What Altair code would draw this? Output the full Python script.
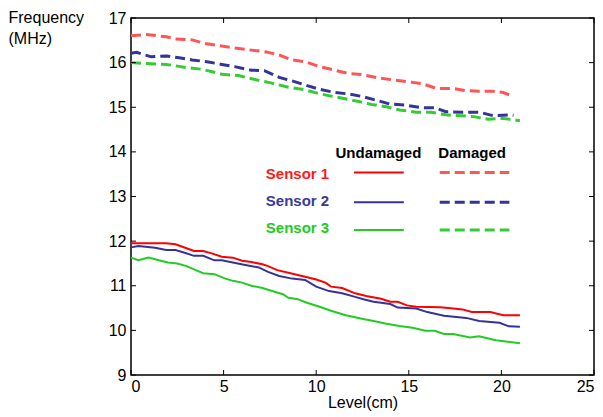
import altair as alt
import pandas as pd

# ---------------- data ----------------
s1u_x = [0, 1.9, 2.4, 3.0, 3.4, 3.9, 4.4, 4.9, 5.5, 6.0, 6.5, 7.1, 7.4, 7.9, 8.5, 9.4, 10.0, 10.5, 10.8,
         11.4, 12.1, 12.7, 13.5, 14.0, 14.4, 14.9, 15.4, 16.7, 17.4, 17.9, 18.4, 19.4, 20.1, 21.0]
s1u_y = [11.95, 11.95, 11.93, 11.84, 11.78, 11.78, 11.72, 11.65, 11.63, 11.56, 11.53, 11.48, 11.44, 11.35,
         11.29, 11.20, 11.14, 11.07, 10.98, 10.95, 10.83, 10.77, 10.71, 10.64, 10.64, 10.56, 10.53, 10.52,
         10.49, 10.47, 10.41, 10.41, 10.34, 10.34]

s2u_x = [0, 0.4, 1.3, 1.9, 2.4, 2.9, 3.4, 3.9, 4.5, 4.9, 5.5, 6.1, 6.9, 7.4, 8.0, 8.7, 9.4, 10.0, 10.7,
         11.4, 12.1, 12.6, 13.1, 14.0, 14.4, 15.4, 16.0, 16.9, 18.1, 18.8, 19.9, 20.4, 21.0]
s2u_y = [11.86, 11.89, 11.85, 11.80, 11.80, 11.74, 11.67, 11.67, 11.57, 11.57, 11.52, 11.47, 11.41, 11.31,
         11.22, 11.16, 11.13, 10.98, 10.88, 10.83, 10.75, 10.69, 10.64, 10.59, 10.51, 10.49, 10.41, 10.33,
         10.28, 10.21, 10.17, 10.09, 10.08]

s3u_x = [0, 0.4, 0.95, 1.5, 2.0, 2.5, 3.0, 3.5, 3.9, 4.5, 5.1, 5.5, 6.0, 6.5, 7.1, 7.8, 8.2, 8.5, 9.0, 9.5,
         10.1, 10.8, 11.6, 12.6, 13.1, 13.8, 14.5, 15.2, 15.9, 16.4, 16.9, 17.4, 18.3, 18.8, 19.7, 21.0]
s3u_y = [11.63, 11.57, 11.63, 11.57, 11.52, 11.50, 11.44, 11.35, 11.28, 11.26, 11.16, 11.11, 11.07, 11.00,
         10.95, 10.86, 10.81, 10.73, 10.70, 10.62, 10.54, 10.44, 10.34, 10.25, 10.21, 10.15, 10.10, 10.06,
         9.99, 9.99, 9.92, 9.92, 9.84, 9.87, 9.78, 9.71]

s1d_x = [0, 0.8, 1.9, 2.4, 3.3, 4.0, 4.75, 5.6, 6.5, 7.3, 8.0, 8.7, 9.4, 10.1, 10.8, 11.7, 12.5, 13.3,
         14.2, 15.0, 15.8, 16.5, 17.4, 18.1, 18.8, 19.55, 20.1, 20.45, 20.65]
s1d_y = [16.60, 16.63, 16.58, 16.53, 16.51, 16.43, 16.38, 16.33, 16.28, 16.24, 16.17, 16.06, 16.02, 15.92,
         15.85, 15.76, 15.73, 15.66, 15.61, 15.57, 15.52, 15.42, 15.42, 15.37, 15.36, 15.36, 15.33, 15.27,
         15.30]

s2d_x = [0, 0.3, 1.1, 1.9, 2.6, 3.3, 4.1, 4.9, 5.6, 6.5, 7.2, 8.0, 8.7, 9.4, 10.1, 11.0, 11.7, 12.5, 13.3,
         14.0, 14.8, 15.7, 16.4, 17.0, 17.9, 18.8, 19.55, 20.45, 20.65]
s2d_y = [16.21, 16.23, 16.13, 16.15, 16.11, 16.06, 16.02, 15.96, 15.91, 15.83, 15.82, 15.67, 15.59, 15.50,
         15.41, 15.33, 15.30, 15.24, 15.15, 15.07, 15.05, 14.99, 14.99, 14.90, 14.89, 14.89, 14.81, 14.83,
         14.82]

s3d_x = [0, 0.8, 1.9, 3.0, 3.85, 4.9, 5.8, 6.8, 7.6, 8.5, 9.4, 10.1, 10.8, 11.7, 12.4, 13.0, 13.8, 14.5,
         15.4, 16.2, 17.0, 17.8, 18.5, 19.3, 20.1, 20.8, 21.0]
s3d_y = [16.00, 15.98, 15.96, 15.89, 15.85, 15.74, 15.71, 15.61, 15.54, 15.45, 15.39, 15.31, 15.25, 15.18,
         15.12, 15.06, 15.01, 14.94, 14.89, 14.89, 14.83, 14.81, 14.79, 14.73, 14.75, 14.71, 14.70]

sensors = ["Sensor 1", "Sensor 2", "Sensor 3"]
states = ["Undamaged", "Damaged"]
x_ticks = [0, 5, 10, 15, 20, 25]
y_ticks = [9, 10, 11, 12, 13, 14, 15, 16, 17]

# legend placement (data units)
leg_text_y = [13.50, 12.89, 12.29]
leg_line_y = [13.54, 12.87, 12.25]
leg_label_x = 10.70
leg_solid_x = [12.04, 14.73]
leg_dash_x = [16.67, 20.43]
leg_head_x = [13.36, 18.42]
leg_head_y = 13.97

# ---------------- styles ----------------
solid_colors = {"Sensor 1": "#ff0000", "Sensor 2": "#333399", "Sensor 3": "#22cc22"}
dash_colors = {"Sensor 1": "#ff5555", "Sensor 2": "#333399", "Sensor 3": "#33cc33"}
text_colors = {"Sensor 1": "#ff1a1a", "Sensor 2": "#3a3a9a", "Sensor 3": "#22cc22"}
FONT = "Liberation Sans"
W, H = 463, 357
PAD_L = 123

series_data = [
    ("Sensor 1", "Undamaged", s1u_x, s1u_y),
    ("Sensor 2", "Undamaged", s2u_x, s2u_y),
    ("Sensor 3", "Undamaged", s3u_x, s3u_y),
    ("Sensor 1", "Damaged", s1d_x, s1d_y),
    ("Sensor 2", "Damaged", s2d_x, s2d_y),
    ("Sensor 3", "Damaged", s3d_x, s3d_y),
]
rows = []
for sensor, state, xs_, ys_ in series_data:
    col = solid_colors[sensor] if state == "Undamaged" else dash_colors[sensor]
    for i, (x, y) in enumerate(zip(xs_, ys_)):
        rows.append({"sensor": sensor, "state": state, "key": sensor + state, "order": i,
                     "level": x, "freq": y, "col": col})
df = pd.DataFrame(rows)

leg_rows = []
for sensor, ly in zip(sensors, leg_line_y):
    for j, x in enumerate(leg_solid_x):
        leg_rows.append({"key": sensor + "U", "state": "Undamaged", "order": j, "level": x, "freq": ly,
                         "col": solid_colors[sensor]})
    for j, x in enumerate(leg_dash_x):
        leg_rows.append({"key": sensor + "D", "state": "Damaged", "order": j, "level": x, "freq": ly,
                         "col": dash_colors[sensor]})
leg_df = pd.DataFrame(leg_rows)
all_lines = pd.concat([df, leg_df], ignore_index=True)

lab_df = pd.DataFrame({"label": sensors, "level": [leg_label_x] * 3, "freq": leg_text_y,
                       "col": [text_colors[s] for s in sensors]})
head_df = pd.DataFrame({"label": states, "level": leg_head_x, "freq": [leg_head_y] * 2})

xs = alt.Scale(domain=[0, 25], nice=False, zero=False)
ys = alt.Scale(domain=[9, 17], nice=False, zero=False)

x_axis = alt.Axis(values=x_ticks, title="Level(cm)", ticks=False, domain=False, grid=False,
                  labelFontSize=16, labelPadding=3, labelColor="black", labelFont=FONT,
                  titleFontSize=16, titleFontWeight="normal", titleFont=FONT, titleColor="black",
                  titlePadding=0)
y_axis = alt.Axis(values=y_ticks, title=["Frequency", "(MHz)"], ticks=False, domain=False, grid=False,
                  labelFontSize=16, labelPadding=5, labelColor="black", labelFont=FONT,
                  titleFontSize=16, titleFontWeight="normal", titleFont=FONT, titleColor="black",
                  titleAngle=0, titleAlign="left", titleBaseline="top", titleX=-PAD_L, titleY=-9,
                  titleLineHeight=21)

base = alt.Chart(all_lines)
solid = base.transform_filter(alt.datum.state == "Undamaged").mark_line(strokeWidth=2).encode(
    x=alt.X("level:Q", scale=xs, axis=x_axis),
    y=alt.Y("freq:Q", scale=ys, axis=y_axis),
    detail="key:N",
    order="order:Q",
    color=alt.Color("col:N", scale=None),
)
dashed = base.transform_filter(alt.datum.state == "Damaged").mark_line(
    strokeWidth=3, strokeDash=[10, 5]).encode(
    x=alt.X("level:Q", scale=xs),
    y=alt.Y("freq:Q", scale=ys),
    detail="key:N",
    order="order:Q",
    color=alt.Color("col:N", scale=None),
)

labels = alt.Chart(lab_df).mark_text(align="right", baseline="middle", fontSize=15, fontWeight="bold",
                                      font=FONT).encode(
    x=alt.X("level:Q", scale=xs), y=alt.Y("freq:Q", scale=ys),
    text="label:N", color=alt.Color("col:N", scale=None))
heads = alt.Chart(head_df).mark_text(align="center", baseline="middle", fontSize=15, fontWeight="bold",
                                      font=FONT, color="black").encode(
    x=alt.X("level:Q", scale=xs), y=alt.Y("freq:Q", scale=ys), text="label:N")

xt = pd.DataFrame({"v": x_ticks})
yt = pd.DataFrame({"v": y_ticks})
tick_style = dict(color="black", strokeWidth=1)
bot = alt.Chart(xt).mark_rule(**tick_style).encode(
    x=alt.X("v:Q", scale=xs), y=alt.value(H), y2=alt.value(H - 5))
top = alt.Chart(xt).mark_rule(**tick_style).encode(
    x=alt.X("v:Q", scale=xs), y=alt.value(0), y2=alt.value(5))
left = alt.Chart(yt).mark_rule(**tick_style).encode(
    y=alt.Y("v:Q", scale=ys), x=alt.value(0), x2=alt.value(5))
right = alt.Chart(yt).mark_rule(**tick_style).encode(
    y=alt.Y("v:Q", scale=ys), x=alt.value(W), x2=alt.value(W - 5))

chart = alt.layer(solid, dashed, labels, heads, bot, top, left, right).properties(
    width=W, height=H,
    autosize=alt.AutoSizeParams(type="none"),
    padding={"left": PAD_L, "top": 10, "right": 1, "bottom": 40},
    background="white",
).configure_view(stroke="black", strokeWidth=1.5)

chart.save("out.html", embed_options={"renderer": "svg", "actions": False})
